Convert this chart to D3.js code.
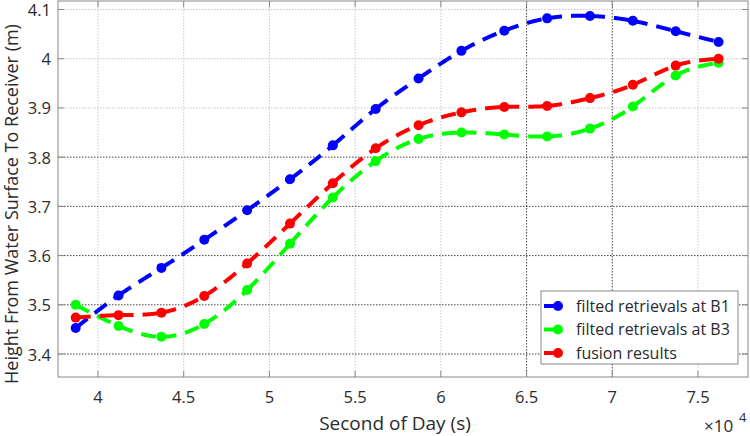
<!DOCTYPE html>
<html>
<head>
<meta charset="utf-8">
<script src="https://cdn.jsdelivr.net/npm/d3@7"></script>
<style>
  body { margin: 0; background: #fff; }
  text { font-family: "Open Sans", sans-serif; fill: #2b2b2b; }
</style>
</head>
<body>
<div id="chart"></div>
<script>
// seconds of day for each retrieval epoch
const seconds = [38700, 41200, 43700, 46200, 48700, 51200, 53700, 56200,
                 58700, 61200, 63700, 66200, 68700, 71200, 73700, 76200];

// heights (m)
const b1 = [3.453, 3.519, 3.575, 3.632, 3.692, 3.755, 3.824, 3.898,
            3.960, 4.016, 4.057, 4.082, 4.087, 4.077, 4.056, 4.034];
const b3 = [3.500, 3.457, 3.435, 3.461, 3.530, 3.624, 3.718, 3.792,
            3.837, 3.850, 3.846, 3.842, 3.858, 3.903, 3.966, 3.992];
const fusion = [3.474, 3.479, 3.484, 3.518, 3.584, 3.665, 3.747, 3.818,
                3.865, 3.891, 3.902, 3.904, 3.920, 3.947, 3.986, 4.000];

const xTicks = [40000, 45000, 50000, 55000, 60000, 65000, 70000, 75000];
const yTicks = [3.4, 3.5, 3.6, 3.7, 3.8, 3.9, 4.0, 4.1];
// these grid lines show up darker in the original
const darkX = [65000, 70000];
const darkY = [3.4, 3.5, 3.6, 3.7, 3.8];

const series = [
    { name: "filted retrievals at B1", color: "#0000ff", values: b1 },
    { name: "filted retrievals at B3", color: "#00ff00", values: b3 },
    { name: "fusion results", color: "#ff0000", values: fusion }
];

const width = 750, height = 436;
const m = { left: 58, right: 748, top: 1, bottom: 377 };

const svg = d3.select("#chart").append("svg")
    .attr("width", width)
    .attr("height", height);

const x = d3.scaleLinear().domain([37667, 77917]).range([m.left, m.right]);
const y = d3.scaleLinear().domain([3.3533, 4.1173]).range([m.bottom, m.top]);

// grid
xTicks.forEach(t => {
    const dark = darkX.includes(t);
    svg.append("line")
        .attr("x1", x(t)).attr("x2", x(t))
        .attr("y1", m.top).attr("y2", m.bottom)
        .attr("stroke", dark ? "#444" : "#c8c8c8")
        .attr("stroke-width", 1)
        .attr("stroke-dasharray", "1.5,1.5");
});
yTicks.forEach(t => {
    const dark = darkY.includes(t);
    svg.append("line")
        .attr("x1", m.left).attr("x2", m.right)
        .attr("y1", y(t)).attr("y2", y(t))
        .attr("stroke", dark ? "#444" : "#c8c8c8")
        .attr("stroke-width", 1)
        .attr("stroke-dasharray", "1.5,1.5");
});

// box
svg.append("rect")
    .attr("x", m.left).attr("y", m.top)
    .attr("width", m.right - m.left).attr("height", m.bottom - m.top)
    .attr("fill", "none")
    .attr("stroke", "#888")
    .attr("stroke-width", 1);

// inner ticks on all four sides
xTicks.forEach(t => {
    [[m.bottom, m.bottom - 6], [m.top, m.top + 6]].forEach(([a, b]) => {
        svg.append("line")
            .attr("x1", x(t)).attr("x2", x(t))
            .attr("y1", a).attr("y2", b)
            .attr("stroke", "#888");
    });
    svg.append("text")
        .attr("x", x(t))
        .attr("y", 403)
        .attr("text-anchor", "middle")
        .attr("font-size", 16.5)
        .text(d3.format("")(t / 10000));
});
yTicks.forEach(t => {
    [[m.left, m.left + 6], [m.right, m.right - 6]].forEach(([a, b]) => {
        svg.append("line")
            .attr("x1", a).attr("x2", b)
            .attr("y1", y(t)).attr("y2", y(t))
            .attr("stroke", "#888");
    });
    svg.append("text")
        .attr("x", 51)
        .attr("y", y(t) + 6.5)
        .attr("text-anchor", "end")
        .attr("font-size", 16.5)
        .text(d3.format("")(t));
});

// exponent note
svg.append("text")
    .attr("x", 704).attr("y", 432)
    .attr("font-size", 17)
    .text("\u00d710");
svg.append("text")
    .attr("x", 739).attr("y", 422)
    .attr("font-size", 13)
    .text("4");

// axis titles
svg.append("text")
    .attr("x", 395)
    .attr("y", 430)
    .attr("text-anchor", "middle")
    .attr("font-size", 19)
    .text("Second of Day (s)");
svg.append("text")
    .attr("transform", "translate(18,204) rotate(-90)")
    .attr("text-anchor", "middle")
    .attr("font-size", 18)
    .text("Height From Water Surface To Receiver (m)");

// smooth curves; the dash pattern restarts at every data point, so the
// spline is sampled and cut into one path per interval
const line = d3.line().curve(d3.curveNatural);
const plain = d3.line();

series.forEach(s => {
    const pts = seconds.map((t, i) => [x(t), y(s.values[i])]);
    const probe = svg.append("path").attr("d", line(pts)).attr("fill", "none");
    const node = probe.node();
    const total = node.getTotalLength();
    const pieces = seconds.slice(1).map(() => []);
    let seg = 0;
    pieces[0].push(pts[0]);
    for (let l = 0; l <= total; l += 0.5) {
        const p = node.getPointAtLength(l);
        while (seg < pieces.length - 1 && p.x >= pts[seg + 1][0]) {
            pieces[seg].push(pts[seg + 1]);
            seg++;
            pieces[seg].push(pts[seg]);
        }
        pieces[seg].push([p.x, p.y]);
    }
    pieces[pieces.length - 1].push(pts[pts.length - 1]);
    probe.remove();

    pieces.forEach(pc => {
        svg.append("path")
            .attr("d", plain(pc))
            .attr("fill", "none")
            .attr("stroke", s.color)
            .attr("stroke-width", 4)
            .attr("stroke-dasharray", "15,9");
    });
    svg.selectAll(null)
        .data(pts)
        .join("circle")
        .attr("cx", d => d[0])
        .attr("cy", d => d[1])
        .attr("r", 5)
        .attr("fill", s.color);
});

// legend
const lg = svg.append("g");
lg.append("rect")
    .attr("x", 541).attr("y", 291)
    .attr("width", 197).attr("height", 73)
    .attr("fill", "#fff")
    .attr("stroke", "#888");
series.forEach((s, i) => {
    const ly = 306 + i * 23.5;
    lg.append("line")
        .attr("x1", 544).attr("x2", 560)
        .attr("y1", ly).attr("y2", ly)
        .attr("stroke", s.color)
        .attr("stroke-width", 4);
    lg.append("circle")
        .attr("cx", 558).attr("cy", ly).attr("r", 5)
        .attr("fill", s.color);
    lg.append("text")
        .attr("x", 576).attr("y", ly + 5.5)
        .attr("font-size", 16)
        .text(s.name);
});
</script>
</body>
</html>
